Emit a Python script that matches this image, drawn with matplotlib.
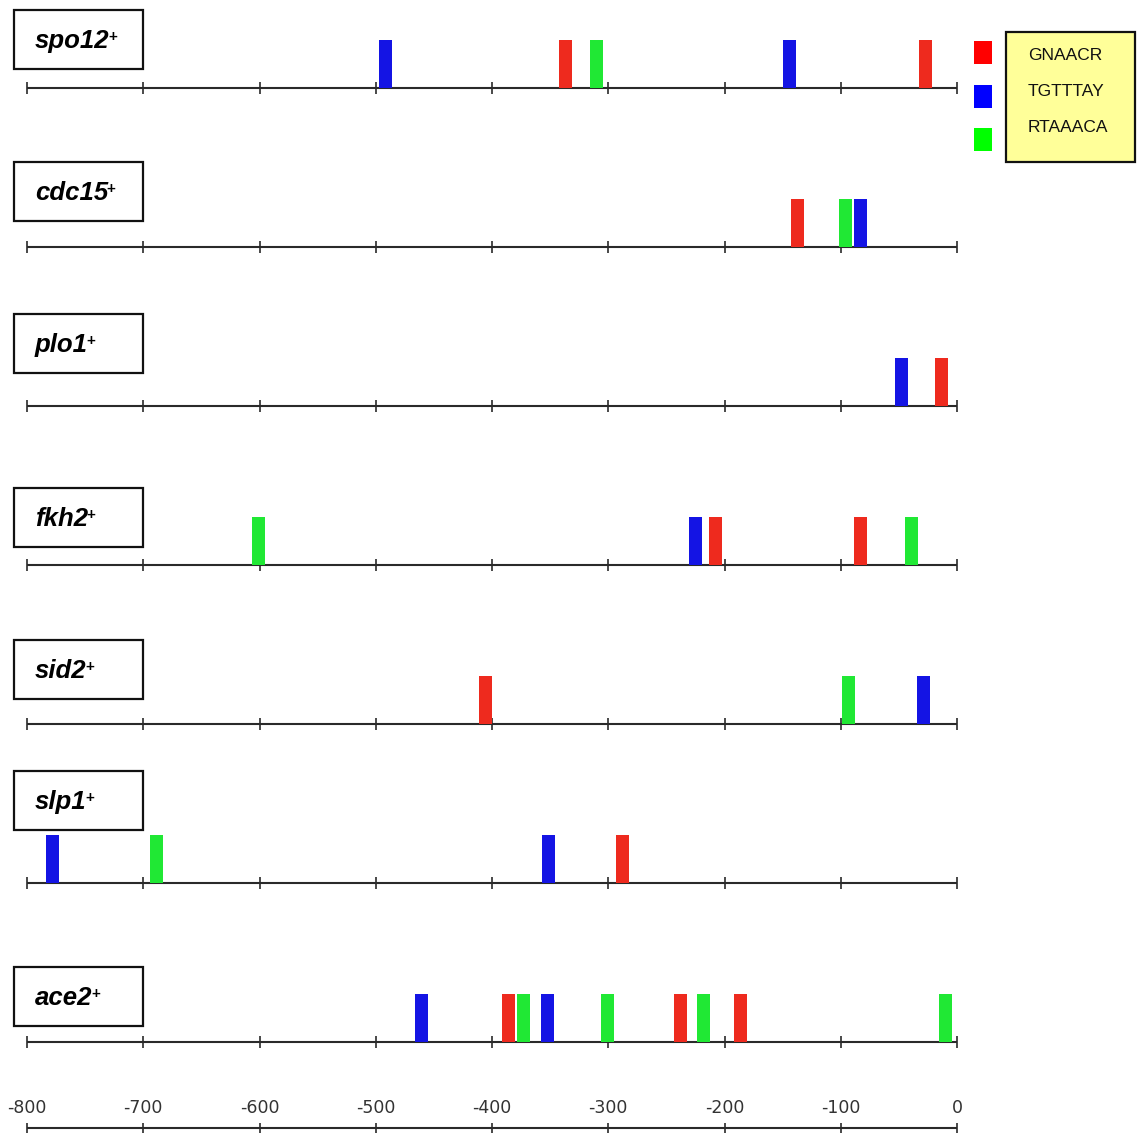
import matplotlib
matplotlib.use('Agg')
import matplotlib.pyplot as plt
from matplotlib.patches import Rectangle

plt.rcParams['font.family'] = ['Liberation Sans', 'DejaVu Sans']

# promoter positions (bp upstream of start) of each motif
genes = ['spo12', 'cdc15', 'plo1', 'fkh2', 'sid2', 'slp1', 'ace2']
motifs = ['GNAACR', 'TGTTTAY', 'RTAAACA']

gnaacr = [[-337, -27], [-137], [-13], [-208, -83], [-406], [-288], [-386, -238, -186]]
tgtttay = [[-492, -144], [-83], [-48], [-225], [-29], [-778, -351], [-461, -352]]
rtaaaca = [[-310], [-96], [], [-601, -39], [-93], [-689], [-373, -301, -218, -10]]

tick_vals = list(range(-800, 1, 100))

bar_colors = ['#ee2a1e', '#1414e4', '#20e834']
key_colors = ['#ff0000', '#0000ff', '#00ff00']

# layout (pixels)
W, H = 1138, 1133
x0_px, px_per_bp = 27, 1.1625
baselines = [88, 247, 406, 565, 724, 883, 1042]
box_tops = [10, 162, 314, 488, 640, 771, 967]
bar_h = 48
bar_w = 11.2
axis_y = 1128

fig = plt.figure(figsize=(W / 100, H / 100), dpi=100)
# value axes: x in bp, y in pixels
ax = fig.add_axes([0, 0, 1, 1])
ax.set_xlim(-800 - x0_px / px_per_bp, -800 + (W - x0_px) / px_per_bp)
ax.set_ylim(H, 0)
ax.axis('off')
# pixel axes for boxes / key
pax = fig.add_axes([0, 0, 1, 1])
pax.set_xlim(0, W)
pax.set_ylim(H, 0)
pax.axis('off')
pax.patch.set_alpha(0)

line_c = '#2a2a2a'

for i, g in enumerate(genes):
    y = baselines[i]
    ax.hlines(y, -800, 0, color=line_c, lw=1.5, zorder=1)
    ax.vlines(tick_vals, y - 6, y + 6, color=line_c, lw=1.2, zorder=1)
    for sites, c in zip([gnaacr[i], tgtttay[i], rtaaaca[i]], bar_colors):
        if sites:
            ax.bar(sites, bar_h, bottom=y - bar_h, width=bar_w, color=c,
                   edgecolor='none', zorder=2)
    # gene label box
    top = box_tops[i]
    pax.add_patch(Rectangle((14, top), 129, 59, facecolor='white',
                            edgecolor='#111111', lw=1.6, zorder=3))
    t = pax.text(35, top + 31, g, fontsize=18.5, fontweight='bold', style='italic',
                 va='center', ha='left', zorder=4)
    pax.annotate('+', xy=(1, 1), xycoords=t, xytext=(-1, -1),
                 textcoords='offset points', fontsize=11, fontweight='bold',
                 va='top', ha='left', zorder=4)

# bottom scale
ax.hlines(axis_y, -800, 0, color=line_c, lw=1.5)
ax.vlines(tick_vals, axis_y - 5, axis_y + 6, color=line_c, lw=1.2)
for v in tick_vals:
    ax.text(v, 1108, str(v), ha='center', va='center', fontsize=12.5,
            family=['Liberation Sans Narrow', 'DejaVu Sans'], color='#333333')

# motif key
key_y = [41, 85, 128]
for yk, c in zip(key_y, key_colors):
    pax.add_patch(Rectangle((974, yk), 18, 23, facecolor=c, edgecolor='none'))
pax.add_patch(Rectangle((1006, 32), 129, 130, facecolor='#ffff99',
                        edgecolor='#111111', lw=1.6))
for yk, m in zip([55, 91, 128], motifs):
    pax.text(1028, yk, m, fontsize=12.5, va='center', ha='left', color='#111111')

fig.savefig('out.png', dpi=100)
